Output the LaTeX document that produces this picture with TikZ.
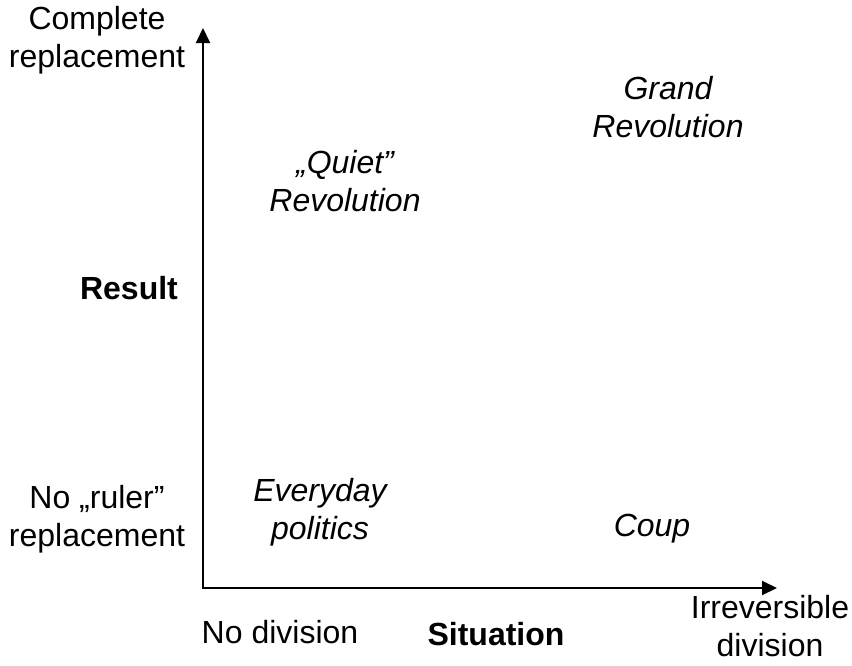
\documentclass[tikz,border=0pt]{standalone}
\usepackage{fontspec}
\setmainfont{Liberation Sans}
\usetikzlibrary{arrows.meta}

\begin{document}
\begin{tikzpicture}[x=0.5pt, y=-0.5pt,
    lbl/.style={align=center, inner sep=0pt, font=\fontsize{16}{19}\selectfont},
    quad/.style={lbl, font=\fontsize{16}{19}\selectfont\itshape},
    ttl/.style={lbl, font=\fontsize{16}{19}\selectfont\bfseries},
    arr/.style={{Triangle[length=7.5pt,width=7pt]}-{Triangle[length=7.5pt,width=7pt]}, line width=1pt}
]
\useasboundingbox (0,0) rectangle (852,665);
% axes
\coordinate (orig) at (203,588);
\coordinate (ytop) at (203,28);
\coordinate (xend) at (777,588);
\draw[arr] (ytop) -- (orig) -- (xend);

% vertical axis
\node[lbl] (full) at (97,40) {Complete\\replacement};
\node[ttl] (result) at (129,288) {Result};
\node[lbl] (noruler) at (97,519) {No „ruler”\\replacement};

% horizontal axis
\node[lbl] (nodiv) at (280,632) {No division};
\node[ttl] (situation) at (496,634) {Situation};
\node[lbl] (irrev) at (770,626) {Irreversible\\division};

% quadrants
\node[quad] (quiet) at (345,181) {„Quiet”\\Revolution};
\node[quad] (grand) at (668,107) {Grand\\Revolution};
\node[quad] (everyday) at (320,512) {Everyday\\politics};
\node[quad] (coup) at (652,529) {Coup};
\end{tikzpicture}
\end{document}
